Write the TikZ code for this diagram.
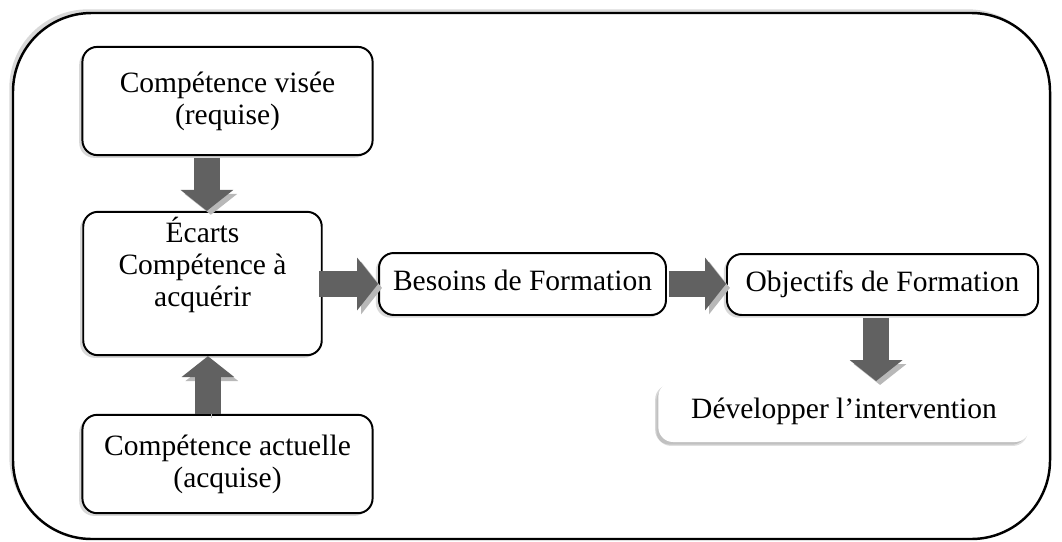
\documentclass[tikz,border=0pt]{standalone}
\usepackage{fontspec}
\setmainfont{Liberation Serif}
\usetikzlibrary{arrows.meta,shadows}
\begin{document}
\begin{tikzpicture}[x=0.4067pt,y=-0.4067pt,
  box/.style={draw,line width=0.8pt,rounded corners=6pt,fill=white,align=center,
    font=\fontsize{12}{13}\selectfont,inner sep=2pt,
    drop shadow={opacity=0.3,shadow xshift=-1.3pt,shadow yshift=-1.1pt}},
  flow/.style={line width=10.5pt,draw=black!62,-{Triangle[width=21pt,length=8.5pt]},
    preaction={draw=black!28,transform canvas={shift={(1.6pt,-1.6pt)}}}}]
\useasboundingbox (0,0) rectangle (1062,541);
\draw[line width=1pt,rounded corners=32pt,fill=white,
  drop shadow={opacity=0.3,shadow xshift=-1.5pt,shadow yshift=1.5pt}]
  (13,13) rectangle (1050,539);
\node[box,minimum width=118pt,minimum height=44pt] (visee) at (227.5,101) {Compétence visée\\(requise)};
\node[box,minimum width=97pt,minimum height=55.7pt,text depth=18pt] (ecarts) at (202.5,283.5) {Écarts\\Compétence à\\acquérir};
\node[box,minimum width=118pt,minimum height=40pt] (actuelle) at (227.5,464) {Compétence actuelle\\(acquise)};
\node[box,minimum width=116.7pt,minimum height=25.2pt,text depth=3pt] (besoins) at (522.5,284) {Besoins de Formation};
\node[box,minimum width=126.5pt,minimum height=24.8pt,text depth=3pt] (objectifs) at (882.5,284.5) {Objectifs de Formation};
\node[box,draw=none,minimum width=151pt,minimum height=24.4pt,text depth=3pt,
  drop shadow={opacity=0.25,shadow xshift=-0.8pt,shadow yshift=-1.6pt}] (dev) at (844,412) {Développer l’intervention};
\draw[flow] ([xshift=1.8pt,yshift=-0.8pt]ecarts.north |- visee.south) -- ([xshift=1.8pt]ecarts.north);
\draw[flow] ([xshift=2.2pt]ecarts.south |- actuelle.north) -- ([xshift=2.2pt]ecarts.south);
\draw[flow] ([xshift=-1.5pt]ecarts.east |- besoins.west) -- (besoins.west);
\draw[flow] ([xshift=0.8pt]besoins.east) -- (objectifs.west |- besoins.east);
\draw[flow] ([xshift=-2.6pt,yshift=-0.8pt]objectifs.south) -- ([xshift=-2.6pt]objectifs.south |- dev.north);
\end{tikzpicture}
\end{document}
